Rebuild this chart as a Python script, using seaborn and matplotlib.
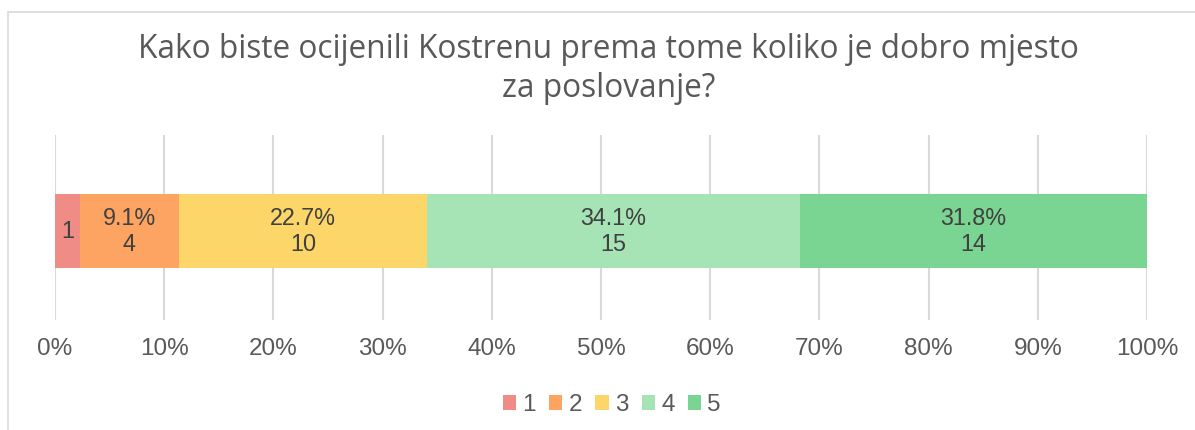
import matplotlib
matplotlib.use("Agg")
import matplotlib.pyplot as plt
from matplotlib.patches import Rectangle, Patch
import seaborn as sns
import pandas as pd

# data
ratings = ["1", "2", "3", "4", "5"]
counts = [1, 4, 10, 15, 14]
pct_labels = ["", "9.1%", "22.7%", "34.1%", "31.8%"]
colors = ["#F08C86", "#FDA462", "#FDD66A", "#A6E4B5", "#7BD592"]
title = "Kako biste ocijenili Kostrenu prema tome koliko je dobro mjesto\nza poslovanje?"

total = sum(counts)
df = pd.DataFrame({"rating": ratings, "count": counts})
df["share"] = df["count"] / total
df["cum"] = df["share"].cumsum()
df["left"] = df["cum"] - df["share"]

sns.set_style("white")
plt.rcParams["font.family"] = ["Liberation Sans", "DejaVu Sans"]

fig = plt.figure(figsize=(11.95, 4.3), dpi=100)
ax = fig.add_axes([0.046, 0.256, 0.9138, 0.43])

# stacked bar: draw cumulative totals from the widest down
for i in reversed(range(len(df))):
    sns.barplot(x=[df["cum"][i]], y=["q"], color=colors[i], orient="h",
                width=0.8, saturation=1, linewidth=0, ax=ax, zorder=2)

for i, row in df.iterrows():
    cx = row["left"] + row["share"] / 2
    txt = str(row["count"]) if pct_labels[i] == "" else f"{pct_labels[i]}\n{row['count']}"
    ax.text(cx, 0, txt, ha="center", va="center", fontsize=16.8,
            color="#404040", linespacing=1.15, zorder=3)

ax.set_xlim(0, 1)
ax.set_ylim(0.96, -1.04)
ax.set_xticks([i / 10 for i in range(11)])
ax.set_xticklabels([f"{i * 10}%" for i in range(11)], fontsize=17.5, color="#595959")
ax.set_yticks([])
ax.set_xlabel("")
ax.set_ylabel("")
ax.tick_params(axis="x", length=0, pad=13)
ax.grid(axis="x", color="#d9d9d9", linewidth=1.5, zorder=0)
ax.set_axisbelow(True)
for s in ax.spines.values():
    s.set_visible(False)

fig.text(0.509, 0.84, title, ha="center", va="center", fontsize=22.8,
         color="#595959", family=["Open Sans", "DejaVu Sans"], linespacing=1.22)

handles = [Patch(facecolor=c, edgecolor="none") for c in colors]
fig.legend(handles, ratings, loc="center", bbox_to_anchor=(0.512, 0.058), ncol=5,
           frameon=False, fontsize=17.5, handlelength=0.55, handleheight=0.55,
           handletextpad=0.25, columnspacing=0.55, labelcolor="#595959")

fig.patches.append(Rectangle((8 / 1195, -0.05), 1.2, 1 - 12 / 430 + 0.05,
                             transform=fig.transFigure, fill=False,
                             edgecolor="#d9d9d9", linewidth=1.2))

fig.savefig("out.png", dpi=100)
